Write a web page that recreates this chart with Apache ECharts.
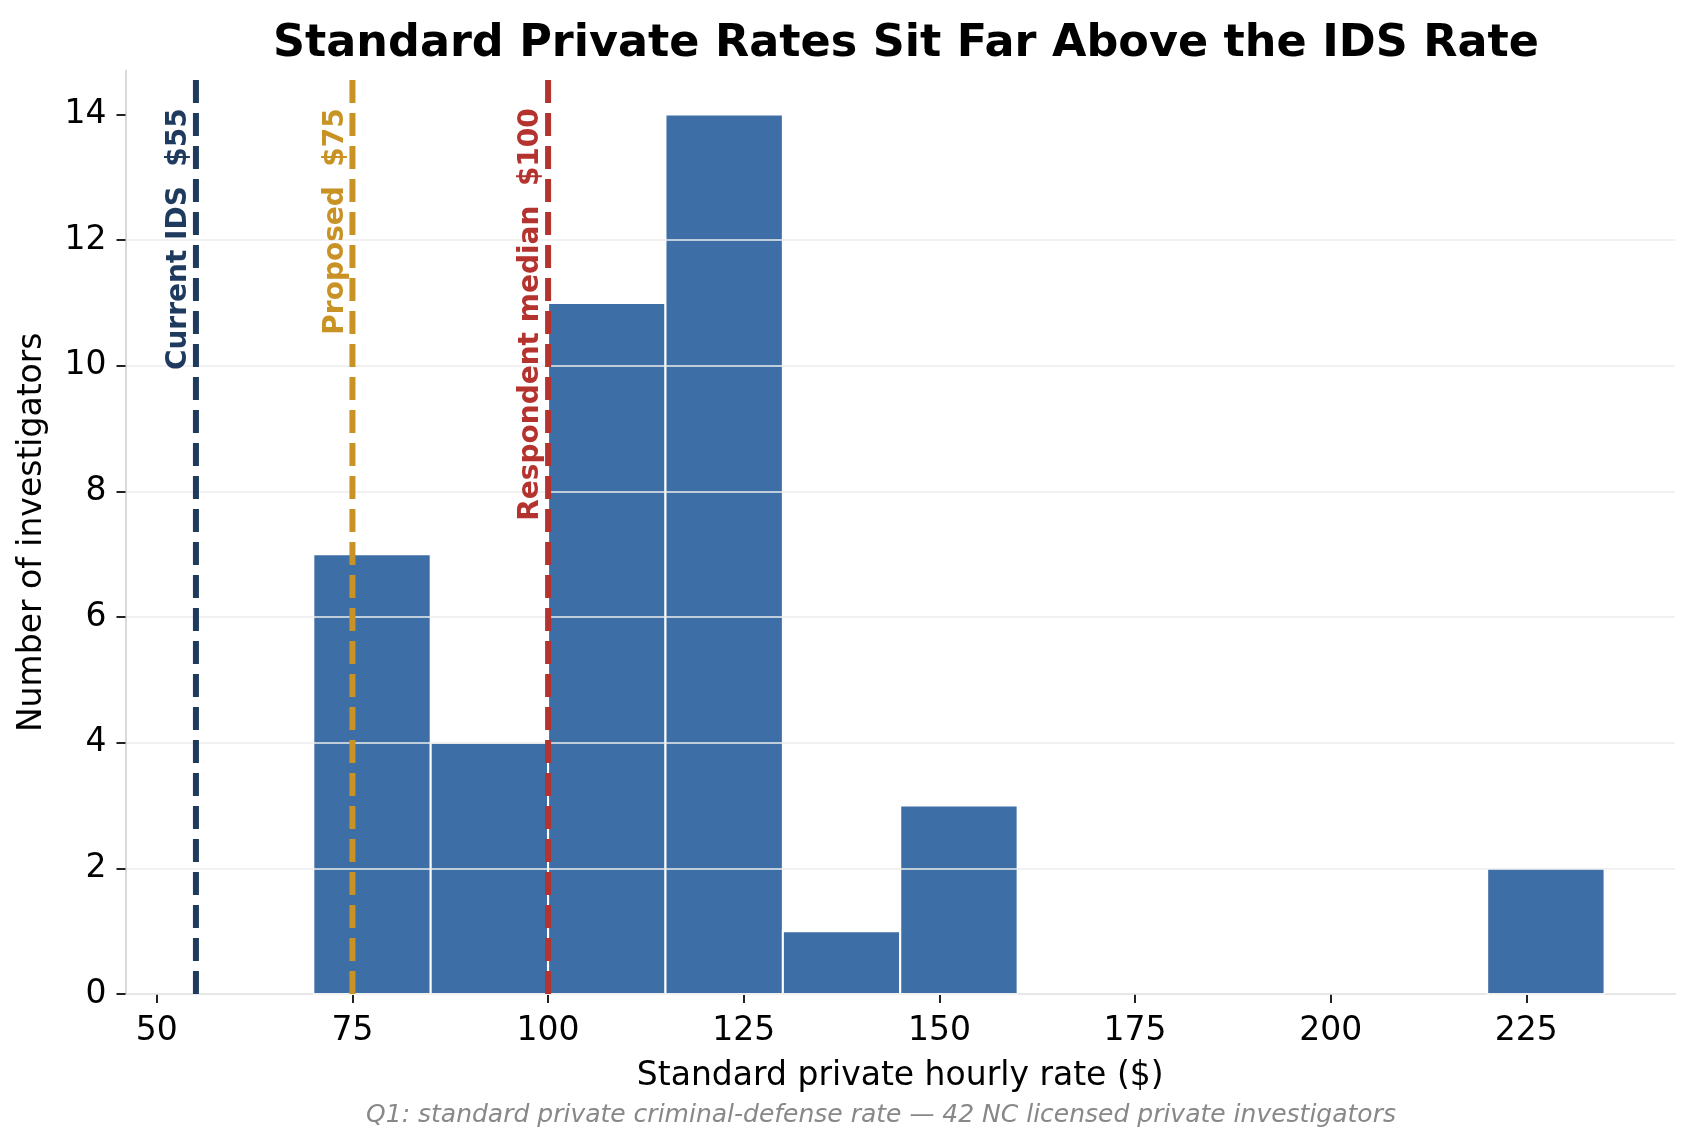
<!DOCTYPE html>
<html lang="en">
<head>
    <meta charset="UTF-8">
    <title>index</title>
    <script src="https://cdn.jsdelivr.net/npm/echarts@6/dist/echarts.min.js"></script>
    <style>
        html, body { margin: 0; padding: 0; background: #fff; }
        #chart { width: 1696px; height: 1145px; }
    </style>
</head>
<body>
<div id="chart"></div>
<script>
    // histogram bins (left edge, right edge) and counts
    var binStart = [70, 85, 100, 115, 130, 145, 160, 175, 190, 205, 220];
    var binEnd   = [85, 100, 115, 130, 145, 160, 175, 190, 205, 220, 235];
    var counts   = [7, 4, 11, 14, 1, 3, 0, 0, 0, 0, 2];

    // reference lines
    var refValues = [55, 75, 100];
    var refLabels = ['Current IDS  $55', 'Proposed  $75', 'Respondent median  $100'];
    var refColors = ['#1f3a5f', '#c99224', '#b5332e'];

    var xTicks = [50, 75, 100, 125, 150, 175, 200, 225];
    var yTicks = [0, 2, 4, 6, 8, 10, 12, 14];

    var X_MIN = 46, X_MAX = 244, Y_MAX = 14.7;
    var LABEL_Y = 14.1;

    var barData = [];
    for (var i = 0; i < counts.length; i++) {
        if (counts[i] > 0) barData.push([binStart[i], binEnd[i], counts[i]]);
    }
    var lineData = refValues.map(function (v, i) { return [v, i]; });

    var my_Chart = echarts.init(document.getElementById('chart'));

    var option = {
        animation: false,
        backgroundColor: '#ffffff',
        title: [{
            text: 'Standard Private Rates Sit Far Above the IDS Rate',
            left: 901, top: 17, textAlign: 'center',
            textStyle: { fontFamily: 'DejaVu Sans', fontWeight: 'bold', fontSize: 44.5, color: '#000' }
        }, {
            text: 'Q1: standard private criminal-defense rate \u2014 42 NC licensed private investigators',
            left: 876, top: 1098, textAlign: 'center',
            textStyle: { fontFamily: 'DejaVu Sans', fontStyle: 'italic', fontWeight: 'normal', fontSize: 25, color: '#888888' }
        }],
        grid: { left: 125.5, right: 21, top: 70.5, bottom: 151, containLabel: false },
        xAxis: {
            type: 'value', min: X_MIN, max: X_MAX,
            name: 'Standard private hourly rate ($)',
            nameLocation: 'middle', nameGap: 66,
            nameTextStyle: { fontFamily: 'DejaVu Sans', fontSize: 33, color: '#000' },
            axisLine: { show: true, lineStyle: { color: '#cccccc', width: 1.5 } },
            axisTick: { show: true, customValues: xTicks, length: 9, lineStyle: { color: '#222', width: 2 } },
            axisLabel: { customValues: xTicks, margin: 21, fontFamily: 'DejaVu Sans', fontSize: 33, color: '#000' },
            splitLine: { show: false }
        },
        yAxis: {
            type: 'value', min: 0, max: Y_MAX, interval: 2, z: 3,
            name: 'Number of investigators',
            nameLocation: 'middle', nameGap: 77,
            nameTextStyle: { fontFamily: 'DejaVu Sans', fontSize: 33, color: '#000' },
            axisLine: { show: true, lineStyle: { color: '#cccccc', width: 1.5 } },
            axisTick: { show: true, customValues: yTicks, length: 9, lineStyle: { color: '#222', width: 2 } },
            axisLabel: { customValues: yTicks, margin: 19, fontFamily: 'DejaVu Sans', fontSize: 33, color: '#000' },
            splitLine: { show: true, showMaxLine: false, lineStyle: { color: '#ececec', width: 1.5 } }
        },
        series: [{
            type: 'custom',
            z: 1,
            data: barData,
            renderItem: function (params, api) {
                var p0 = api.coord([api.value(0), api.value(2)]);
                var p1 = api.coord([api.value(1), 0]);
                return {
                    type: 'rect',
                    shape: { x: p0[0], y: p0[1], width: p1[0] - p0[0], height: p1[1] - p0[1] },
                    style: { fill: '#3d6fa6', stroke: '#ffffff', lineWidth: 2 }
                };
            }
        }, {
            type: 'custom',
            z: 5,
            data: lineData,
            renderItem: function (params, api) {
                var v = api.value(0), k = api.value(1);
                var top = api.coord([v, Y_MAX]);
                var bot = api.coord([v, 0]);
                var lab = api.coord([v, LABEL_Y]);
                return {
                    type: 'group',
                    children: [{
                        type: 'line',
                        shape: { x1: bot[0], y1: bot[1], x2: top[0], y2: top[1] },
                        style: { stroke: refColors[k], lineWidth: 6, lineDash: [23, 10] }
                    }, {
                        type: 'text',
                        x: lab[0] - 3, y: lab[1],
                        rotation: Math.PI / 2,
                        style: {
                            text: refLabels[k],
                            fill: refColors[k],
                            font: 'bold 28px "DejaVu Sans"',
                            align: 'right', verticalAlign: 'bottom'
                        }
                    }]
                };
            }
        }]
    };
    my_Chart.setOption(option);
</script>
</body>
</html>
